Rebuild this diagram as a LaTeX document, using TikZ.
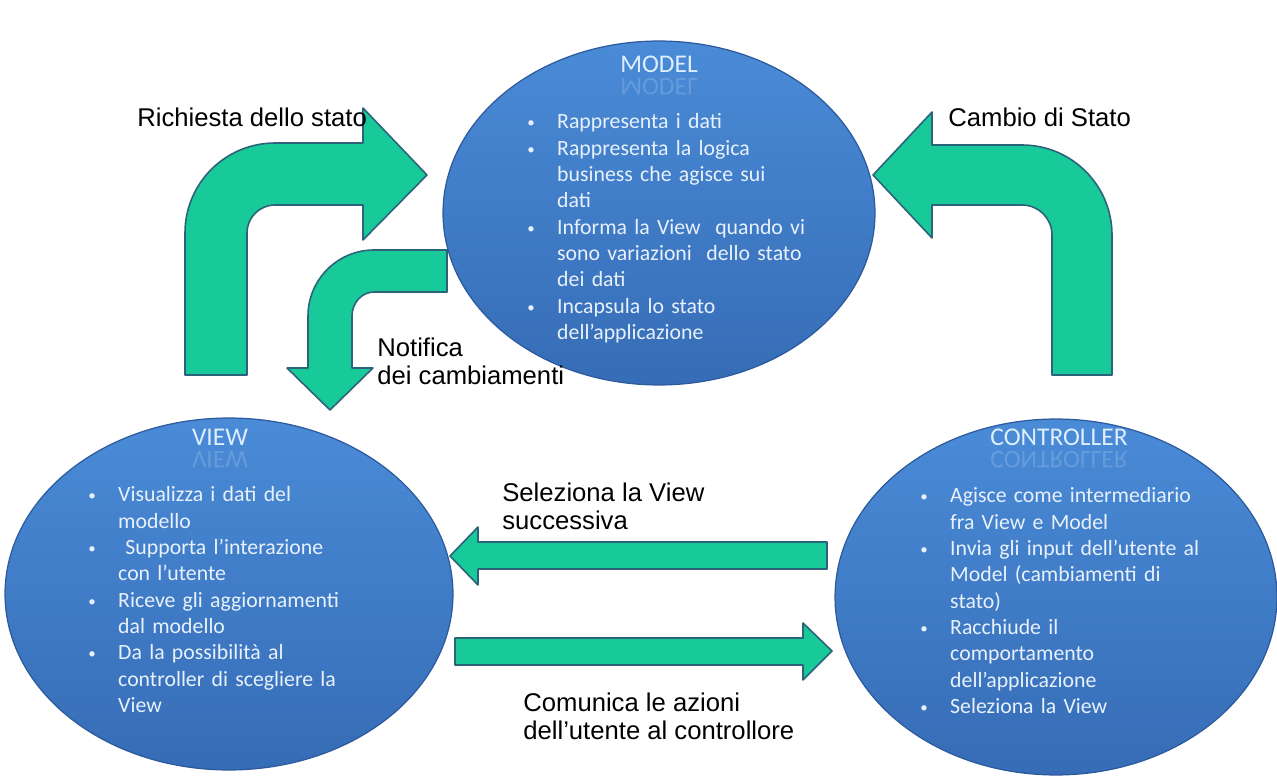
\documentclass[tikz,border=0pt]{standalone}
\usepackage{fontspec}
\setmainfont{Liberation Sans}
\newfontfamily\calfont{Carlito}
\usetikzlibrary{shapes.geometric}
\definecolor{arrfill}{RGB}{24,201,153}
\definecolor{arrline}{RGB}{44,98,122}
\definecolor{elltop}{RGB}{74,139,215}
\definecolor{ellbot}{RGB}{54,108,182}
\definecolor{elledge}{RGB}{44,90,156}
\definecolor{etext}{RGB}{232,241,251}
\definecolor{etitle}{RGB}{222,238,252}
\newcommand{\bitem}[1]{\par\hangindent=17pt\hangafter=1\noindent\makebox[17pt][l]{\fontsize{8.5}{8.5}\selectfont\raisebox{0.6pt}{•}}#1}
\tikzset{
  ell/.style={ellipse, top color=elltop, bottom color=ellbot, draw=elledge, line width=0.7pt},
  arrowshape/.style={fill=arrfill, draw=arrline, line width=0.9pt, line join=round},
  blk/.style={anchor=north west, inner sep=0pt, text width=190pt, text=etext,
    font=\calfont\fontsize{12.4}{15}\selectfont},
  ttl/.style={inner sep=0pt, text=etitle, font=\calfont\fontsize{14.5}{17}\selectfont},
  refl/.style={inner sep=0pt, text=etitle, opacity=0.2, yscale=-1, transform shape,
    font=\calfont\fontsize{14.5}{17}\selectfont},
  lbl/.style={inner sep=0pt, align=left, text=black, font=\fontsize{14.6}{15.5}\selectfont},
}
\begin{document}
\begin{tikzpicture}[x=0.02cm,y=-0.02cm]
\useasboundingbox (0,0) rectangle (1277,780);
\fill[white] (0,0) rectangle (1277,780);

% ellipses
\node[ell, minimum width=8.64cm, minimum height=6.88cm] (model) at (659,213) {};
\node[ell, minimum width=8.96cm, minimum height=7.04cm] (view) at (229,594) {};
\node[ell, minimum width=8.84cm, minimum height=7.12cm] (ctrl) at (1056,597) {};

% titles
\node[ttl] (mt) at (659,64) {MODEL};
\node[refl] (mtr) at (659,87) {MODEL};
\node[ttl] (vt) at (220,437) {VIEW};
\node[refl] (vtr) at (220,460) {VIEW};
\node[ttl] (ct) at (1059,437) {CONTROLLER};
\node[refl] (ctr) at (1059,460) {CONTROLLER};

% bullet texts
\node[blk] (mtext) at (527,102) {%
\bitem{Rappresenta i dati}%
\bitem{Rappresenta la logica\newline business che agisce sui\newline dati}%
\bitem{Informa la View\ \ quando vi\newline sono variazioni\ \ dello stato\newline dei dati}%
\bitem{Incapsula lo stato\newline dell’applicazione}\par};

\node[blk] (vtext) at (88,475) {%
\bitem{Visualizza i dati del\newline modello}%
\bitem{\ Supporta l’interazione\newline con l’utente}%
\bitem{Riceve gli aggiornamenti\newline dal modello}%
\bitem{Da la possibilità al\newline controller di scegliere la\newline View}\par};

\node[blk] (ctext) at (920,476) {%
\bitem{Agisce come intermediario\newline fra View e Model}%
\bitem{Invia gli input dell’utente al\newline Model (cambiamenti di\newline stato)}%
\bitem{Racchiude il\newline comportamento\newline dell’applicazione}%
\bitem{Seleziona la View}\par};

% block arrows
\draw[arrowshape] (185,375) -- (185,233) .. controls (185,183.3) and (225.3,143) .. (275,143)
  -- (363,143) -- (363,108) -- (427,175) -- (363,240) -- (363,205) -- (275,205)
  .. controls (259.5,205) and (247,217.5) .. (247,233) -- (247,375) -- cycle;
\draw[arrowshape] (447,250) -- (374,250) .. controls (337.6,250) and (308,279.6) .. (308,316)
  -- (308,368) -- (287,368) -- (330,410) -- (373,368) -- (352,368) -- (352,316)
  .. controls (352,302.8) and (361.9,292) .. (374,292) -- (447,292) -- cycle;
\draw[arrowshape] (1112,375) -- (1112,235) .. controls (1112,185.3) and (1071.7,145) .. (1022,145)
  -- (932,145) -- (932,112) -- (873,175) -- (932,238) -- (932,205) -- (1022,205)
  .. controls (1038.6,205) and (1052,218.4) .. (1052,235) -- (1052,375) -- cycle;
\draw[arrowshape] (827,542) -- (478,542) -- (478,527) -- (450,556) -- (478,585) -- (478,569) -- (827,569) -- cycle;
\draw[arrowshape] (455,638) -- (803,638) -- (803,623) -- (832,651) -- (803,680) -- (803,665) -- (455,665) -- cycle;

% labels
\node[lbl, anchor=base west] (l1) at (137,127) {Richiesta dello stato};
\node[lbl, anchor=base west] (l2) at (948,127) {Cambio di Stato};
\node[lbl, anchor=north west] (l3) at (377,338) {Notifica\\dei cambiamenti};
\node[lbl, anchor=north west] (l4) at (502,483) {Seleziona la View\\successiva};
\node[lbl, anchor=north west] (l5) at (523,693) {Comunica le azioni\\dell’utente al controllore};
\end{tikzpicture}
\end{document}
